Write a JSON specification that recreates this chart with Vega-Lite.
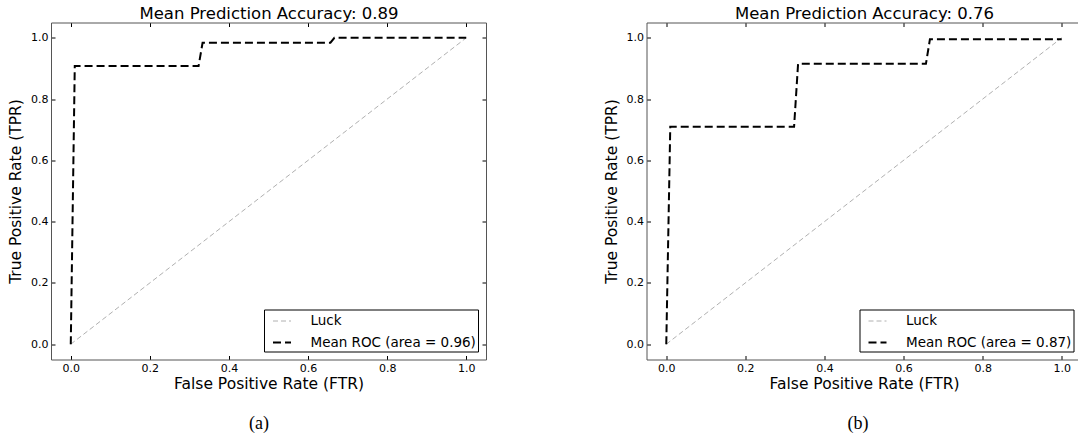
{
  "$schema": "https://vega.github.io/schema/vega-lite/v6.json",
  "background": "white",
  "padding": {"left": 8, "top": 4.5, "right": -3.5, "bottom": 0},
  "config": {
    "font": "DejaVu Sans",
    "view": {"stroke": null},
    "axis": {
      "grid": false,
      "domainColor": "#555555",
      "domainWidth": 1,
      "tickColor": "black",
      "tickSize": -4,
      "labelPadding": 7,
      "labelFontSize": 11,
      "labelColor": "black",
      "labelFont": "DejaVu Sans",
      "titleFontSize": 15.5,
      "titleFontWeight": "normal",
      "titleColor": "black",
      "titleFont": "DejaVu Sans"
    },
    "legend": {
      "orient": "bottom-right",
      "offset": 8,
      "strokeColor": "black",
      "fillColor": "white",
      "padding": 2,
      "cornerRadius": 0,
      "symbolType": "stroke",
      "symbolSize": 324,
      "symbolOffset": 6,
      "labelFontSize": 13.5,
      "labelFont": "DejaVu Sans",
      "labelColor": "black",
      "labelOffset": 18.5,
      "labelLimit": 400,
      "labelExpr": "datum.label + '  '",
      "rowPadding": 5,
      "title": null
    },
    "title": {"font": "Liberation Serif", "fontSize": 18, "fontWeight": "normal", "color": "black"}
  },
  "datasets": {
    "a": [
      {"series": "Luck", "fpr": 0, "tpr": 0},
      {"series": "Luck", "fpr": 1, "tpr": 1},
      {"series": "Mean ROC (area = 0.96)", "fpr": 0, "tpr": 0},
      {"series": "Mean ROC (area = 0.96)", "fpr": 0.0101, "tpr": 0.908},
      {"series": "Mean ROC (area = 0.96)", "fpr": 0.3232, "tpr": 0.908},
      {"series": "Mean ROC (area = 0.96)", "fpr": 0.3333, "tpr": 0.984},
      {"series": "Mean ROC (area = 0.96)", "fpr": 0.6566, "tpr": 0.984},
      {"series": "Mean ROC (area = 0.96)", "fpr": 0.6667, "tpr": 1.0},
      {"series": "Mean ROC (area = 0.96)", "fpr": 1.0, "tpr": 1.0}
    ],
    "b": [
      {"series": "Luck", "fpr": 0, "tpr": 0},
      {"series": "Luck", "fpr": 1, "tpr": 1},
      {"series": "Mean ROC (area = 0.87)", "fpr": 0, "tpr": 0},
      {"series": "Mean ROC (area = 0.87)", "fpr": 0.0101, "tpr": 0.71},
      {"series": "Mean ROC (area = 0.87)", "fpr": 0.3232, "tpr": 0.71},
      {"series": "Mean ROC (area = 0.87)", "fpr": 0.3333, "tpr": 0.915},
      {"series": "Mean ROC (area = 0.87)", "fpr": 0.6566, "tpr": 0.915},
      {"series": "Mean ROC (area = 0.87)", "fpr": 0.6667, "tpr": 0.995},
      {"series": "Mean ROC (area = 0.87)", "fpr": 1.0, "tpr": 0.995}
    ]
  },
  "spacing": 116.5,
  "hconcat": [
    {
      "title": {"text": "(a)", "orient": "bottom", "offset": 23, "frame": "group", "dx": -9.5},
      "width": 435,
      "height": 337,
      "data": {"name": "a"},
      "resolve": {"axis": {"x": "independent", "y": "independent"}},
      "layer": [
        {
          "transform": [{"filter": "datum.series == 'Luck'"}],
          "mark": {"type": "line"},
          "encoding": {
            "x": {"field": "fpr", "type": "quantitative", "scale": {"domain": [-0.05, 1.05], "nice": false, "zero": false}, "axis": {"orient": "bottom", "title": "False Positive Rate (FTR)", "values": [0, 0.2, 0.4, 0.6, 0.8, 1.0], "format": ".1f", "titlePadding": 3}},
            "y": {"field": "tpr", "type": "quantitative", "scale": {"domain": [-0.05, 1.05], "nice": false, "zero": false}, "axis": {"orient": "left", "title": "True Positive Rate (TPR)", "values": [0, 0.2, 0.4, 0.6, 0.8, 1.0], "format": ".1f", "titlePadding": 7}},
            "color": {"field": "series", "type": "nominal", "scale": {"domain": ["Luck", "Mean ROC (area = 0.96)"], "range": ["#b0b0b0", "black"]}},
            "strokeDash": {"field": "series", "type": "nominal", "scale": {"domain": ["Luck", "Mean ROC (area = 0.96)"], "range": [[5, 3], [8, 4]]}},
            "strokeWidth": {"field": "series", "type": "nominal", "scale": {"domain": ["Luck", "Mean ROC (area = 0.96)"], "range": [1, 2]}}
          }
        },
        {
          "transform": [{"filter": "datum.series != 'Luck'"}],
          "mark": {"type": "line"},
          "encoding": {
            "x": {"field": "fpr", "type": "quantitative", "axis": {"orient": "top", "labels": false, "values": [0, 0.2, 0.4, 0.6, 0.8, 1.0], "title": "Mean Prediction Accuracy: 0.89", "titleFontSize": 16.5, "titlePadding": 1}},
            "y": {"field": "tpr", "type": "quantitative", "axis": {"orient": "right", "labels": false, "values": [0, 0.2, 0.4, 0.6, 0.8, 1.0], "title": null}},
            "color": {"field": "series", "type": "nominal"},
            "strokeDash": {"field": "series", "type": "nominal"},
            "strokeWidth": {"field": "series", "type": "nominal"}
          }
        }
      ]
    },
    {
      "title": {"text": "(b)", "orient": "bottom", "offset": 23, "frame": "group", "dx": -6},
      "width": 435,
      "height": 337,
      "data": {"name": "b"},
      "resolve": {"axis": {"x": "independent", "y": "independent"}},
      "layer": [
        {
          "transform": [{"filter": "datum.series == 'Luck'"}],
          "mark": {"type": "line"},
          "encoding": {
            "x": {"field": "fpr", "type": "quantitative", "scale": {"domain": [-0.05, 1.05], "nice": false, "zero": false}, "axis": {"orient": "bottom", "title": "False Positive Rate (FTR)", "values": [0, 0.2, 0.4, 0.6, 0.8, 1.0], "format": ".1f", "titlePadding": 3}},
            "y": {"field": "tpr", "type": "quantitative", "scale": {"domain": [-0.05, 1.05], "nice": false, "zero": false}, "axis": {"orient": "left", "title": "True Positive Rate (TPR)", "values": [0, 0.2, 0.4, 0.6, 0.8, 1.0], "format": ".1f", "titlePadding": 7}},
            "color": {"field": "series", "type": "nominal", "scale": {"domain": ["Luck", "Mean ROC (area = 0.87)"], "range": ["#b0b0b0", "black"]}},
            "strokeDash": {"field": "series", "type": "nominal", "scale": {"domain": ["Luck", "Mean ROC (area = 0.87)"], "range": [[5, 3], [8, 4]]}},
            "strokeWidth": {"field": "series", "type": "nominal", "scale": {"domain": ["Luck", "Mean ROC (area = 0.87)"], "range": [1, 2]}}
          }
        },
        {
          "transform": [{"filter": "datum.series != 'Luck'"}],
          "mark": {"type": "line"},
          "encoding": {
            "x": {"field": "fpr", "type": "quantitative", "axis": {"orient": "top", "labels": false, "values": [0, 0.2, 0.4, 0.6, 0.8, 1.0], "title": "Mean Prediction Accuracy: 0.76", "titleFontSize": 16.5, "titlePadding": 1}},
            "y": {"field": "tpr", "type": "quantitative", "axis": {"orient": "right", "labels": false, "values": [0, 0.2, 0.4, 0.6, 0.8, 1.0], "title": null}},
            "color": {"field": "series", "type": "nominal"},
            "strokeDash": {"field": "series", "type": "nominal"},
            "strokeWidth": {"field": "series", "type": "nominal"}
          }
        }
      ]
    }
  ],
  "resolve": {"scale": {"color": "independent", "strokeDash": "independent", "strokeWidth": "independent", "x": "independent", "y": "independent"}}
}
